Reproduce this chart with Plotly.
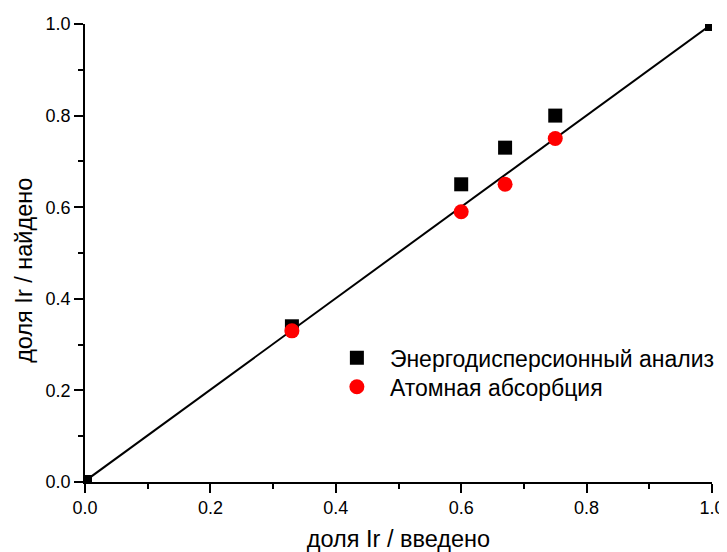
import plotly.graph_objects as go

# Data
eds_x = [0.0, 0.33, 0.60, 0.67, 0.75, 1.0]
eds_y = [0.0, 0.34, 0.65, 0.73, 0.80, 1.0]
aas_x = [0.33, 0.60, 0.67, 0.75]
aas_y = [0.33, 0.59, 0.65, 0.75]
fit_x = [0.0, 1.0]
fit_y = [0.002, 1.0]
x_title = "доля Ir / введено"
y_title = "доля Ir / найдено"

FONT = "Arial, Liberation Sans, sans-serif"

fig = go.Figure()
fig.add_trace(go.Scatter(x=fit_x, y=fit_y, mode="lines",
                         line=dict(color="black", width=2), showlegend=False,
                         hoverinfo="skip"))
fig.add_trace(go.Scatter(x=eds_x, y=eds_y, mode="markers",
                         name="Энергодисперсионный анализ", legend="legend",
                         marker=dict(symbol="square", size=14, color="black")))
fig.add_trace(go.Scatter(x=aas_x, y=aas_y, mode="markers",
                         name="Атомная абсорбция", legend="legend2",
                         marker=dict(symbol="circle", size=15, color="#ff0000")))

axis_common = dict(
    range=[0, 1], dtick=0.2, tick0=0, tickformat=".1f",
    showline=True, linecolor="black", linewidth=1.5,
    ticks="outside", ticklen=9, tickwidth=1.5, tickcolor="black",
    minor=dict(ticks="outside", ticklen=5, tickwidth=1.5, tickcolor="black", dtick=0.1),
    showgrid=False, zeroline=False, mirror=False, automargin=False,
    tickfont=dict(family=FONT, size=18, color="black"),
)

leg_common = dict(xanchor="left", yanchor="middle", bgcolor="rgba(0,0,0,0)",
                  font=dict(family=FONT, size=23), itemwidth=56)

fig.update_layout(
    width=719, height=544,
    margin=dict(l=77, r=15, t=16, b=70, autoexpand=False),
    plot_bgcolor="white", paper_bgcolor="white",
    font=dict(family=FONT, size=18, color="black"),
    xaxis=dict(axis_common, title=dict(text=x_title,
                                       font=dict(family=FONT, size=23.5), standoff=14)),
    yaxis=dict(axis_common),
    legend=dict(leg_common, x=0.381, y=0.271),
    legend2=dict(leg_common, x=0.381, y=0.208),
    annotations=[dict(text=y_title, xref="paper", yref="paper", x=0, y=0.461,
                      xanchor="center", yanchor="middle", xshift=-61, textangle=-90,
                      showarrow=False, font=dict(family=FONT, size=23.5, color="black"))],
)

fig.write_html("out.html")
